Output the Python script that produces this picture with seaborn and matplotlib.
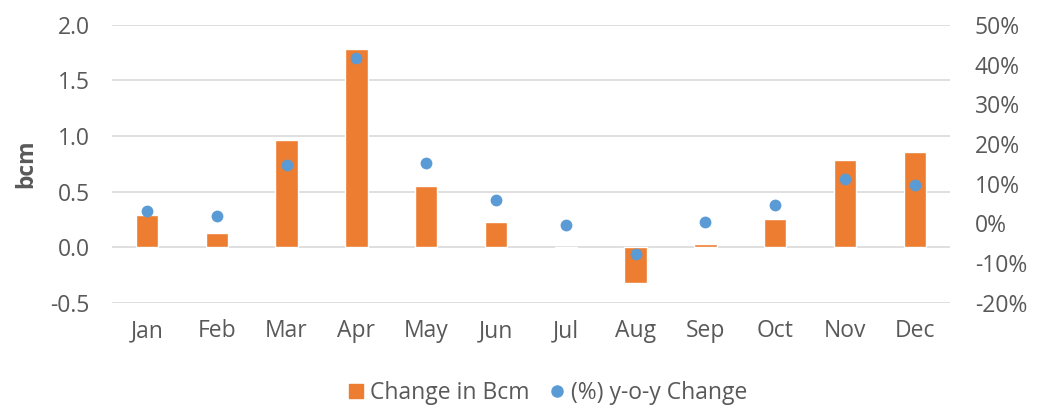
import matplotlib
matplotlib.use("Agg")
import matplotlib.pyplot as plt
import matplotlib.ticker as mtick
from matplotlib.lines import Line2D
import seaborn as sns
import pandas as pd

# data
months = ['Jan', 'Feb', 'Mar', 'Apr', 'May', 'Jun', 'Jul', 'Aug', 'Sep', 'Oct', 'Nov', 'Dec']
change_bcm = [0.29, 0.13, 0.965, 1.78, 0.55, 0.23, -0.01, -0.32, 0.025, 0.25, 0.78, 0.86]
yoy_pct = [3.1, 1.8, 14.6, 41.7, 15.1, 5.9, -0.3, -7.7, 0.4, 4.6, 11.2, 9.6]

orange = '#ED7D31'
blue = '#5B9BD5'
grey = '#595959'

df = pd.DataFrame({'Month': months, 'Bcm': change_bcm, 'Pct': [v / 100 for v in yoy_pct]})

sns.set_style('white')
plt.rcParams['font.family'] = ['Open Sans', 'DejaVu Sans']
plt.rcParams['axes.unicode_minus'] = False

fig = plt.figure(figsize=(10.38, 4.08), dpi=100)
ax = fig.add_axes([0.108, 0.258, 0.807, 0.681])

sns.barplot(data=df, x='Month', y='Bcm', color=orange, width=0.32, saturation=1, ax=ax)
ax.set_ylim(-0.5, 2.0)
ax.set_yticks([-0.5, 0.0, 0.5, 1.0, 1.5, 2.0])
ax.yaxis.set_major_formatter(mtick.FormatStrFormatter('%.1f'))
ax.grid(axis='y', color='#D9D9D9', linewidth=1.2)
ax.set_axisbelow(True)
ax.set_xlabel('')
ax.set_ylabel('bcm', fontsize=16.5, fontweight='bold', color=grey, labelpad=9)
ax.tick_params(axis='both', length=0, labelsize=16.5, labelcolor=grey)
ax.tick_params(axis='y', pad=16)
ax.tick_params(axis='x', pad=12)
ax.set_xlim(-0.5, 11.5)

ax2 = ax.twinx()
sns.stripplot(data=df, x='Month', y='Pct', color=blue, jitter=False, size=8.5, ax=ax2, zorder=5)
ax2.set_ylim(-0.2, 0.5)
ax2.set_yticks([-0.2, -0.1, 0, 0.1, 0.2, 0.3, 0.4, 0.5])
ax2.yaxis.set_major_formatter(mtick.PercentFormatter(1.0, decimals=0))
ax2.tick_params(axis='y', length=0, labelsize=16.5, labelcolor=grey, pad=18)
ax2.set_ylabel('')
ax2.set_xlim(-0.5, 11.5)

for a in (ax, ax2):
    for s in a.spines.values():
        s.set_visible(False)

handles = [Line2D([], [], marker='s', linestyle='', color=orange, markersize=10, label='Change in Bcm'),
           Line2D([], [], marker='o', linestyle='', color=blue, markersize=8, label='(%) y-o-y Change')]
fig.legend(handles=handles, loc='center', bbox_to_anchor=(0.528, 0.037), ncol=2, frameon=False,
           fontsize=16.5, labelcolor=grey, handlelength=0.6, handletextpad=0.3, columnspacing=0.9)

fig.savefig('out.png', dpi=100)
